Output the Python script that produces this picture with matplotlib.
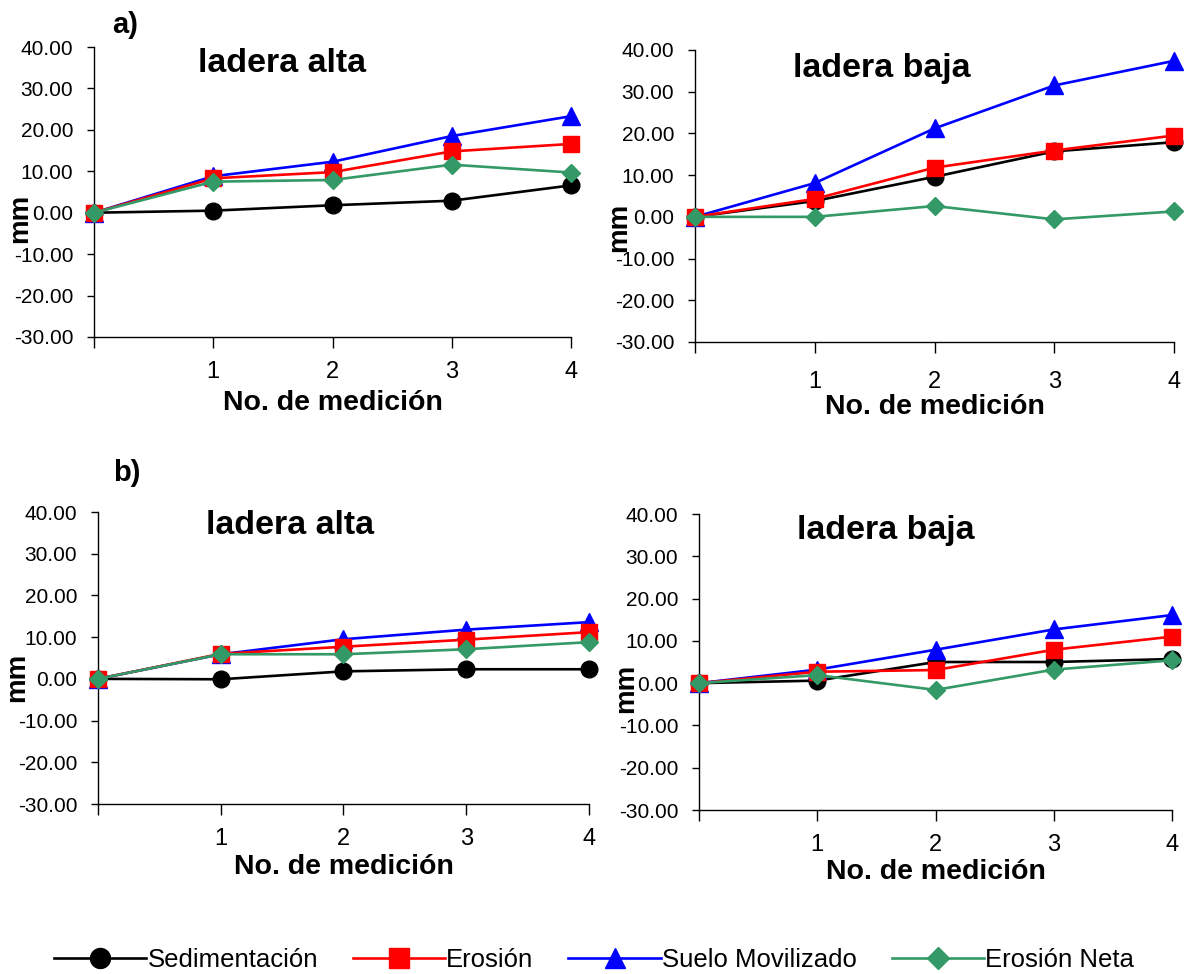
import matplotlib
matplotlib.use("Agg")
import matplotlib.pyplot as plt
import numpy as np

plt.rcParams.update({
    "font.family": ["Liberation Sans", "DejaVu Sans"],
    "font.size": 15,
    "xtick.labelsize": 17,
    "ytick.labelsize": 15,
    "axes.linewidth": 1.0,
})

W, H = 1195, 974

mediciones = [0, 1, 2, 3, 4]
tick_labels = ["", "1", "2", "3", "4"]
series_names = ["Sedimentación", "Erosión", "Suelo Movilizado", "Erosión Neta"]

# a) ladera alta
a_alta_sed = [0.0, 0.5, 1.8, 2.9, 6.6]
a_alta_ero = [0.0, 8.3, 9.8, 14.8, 16.6]
a_alta_sue = [0.0, 8.8, 12.3, 18.5, 23.3]
a_alta_net = [0.0, 7.5, 7.9, 11.6, 9.7]

# a) ladera baja
a_baja_sed = [0.0, 3.8, 9.6, 15.7, 17.9]
a_baja_ero = [0.0, 4.3, 11.8, 15.9, 19.5]
a_baja_sue = [0.0, 8.1, 21.2, 31.5, 37.4]
a_baja_net = [0.0, 0.0, 2.6, -0.6, 1.3]

# b) ladera alta
b_alta_sed = [0.0, -0.1, 1.8, 2.3, 2.3]
b_alta_ero = [0.0, 6.0, 7.7, 9.4, 11.2]
b_alta_sue = [0.0, 5.9, 9.5, 11.8, 13.6]
b_alta_net = [0.0, 5.9, 5.9, 7.1, 8.8]

# b) ladera baja
b_baja_sed = [0.0, 0.6, 5.0, 5.0, 5.7]
b_baja_ero = [0.0, 2.7, 3.1, 7.9, 11.0]
b_baja_sue = [0.0, 3.2, 7.9, 12.7, 16.1]
b_baja_net = [0.0, 1.9, -1.6, 3.2, 5.4]

STYLES = {
    "Sedimentación": dict(color="black", marker="o", ms=12, z=2),
    "Erosión": dict(color="#FF0000", marker="s", ms=11.5, z=4),
    "Suelo Movilizado": dict(color="#0000FF", marker="^", ms=12.5, z=3),
    "Erosión Neta": dict(color="#339966", marker="D", ms=9, z=5),
}


def px_axes(fig, x0, x1, ytop, ybot):
    return fig.add_axes([x0 / W, 1 - ybot / H, (x1 - x0) / W, (ybot - ytop) / H])


def ftext(fig, x, y, s, **kw):
    fig.text(x / W, 1 - y / H, s, ha="center", va="center", **kw)


panels = [
    # x0, x1, ytop, ybot, title, title pos, mm pos, xlabel y, tick pad, data
    (94, 571, 47, 337, "ladera alta", (282, 63), (20, 218), 403, 9,
     [a_alta_sed, a_alta_ero, a_alta_sue, a_alta_net]),
    (695, 1174, 50, 342, "ladera baja", (882, 68), (619, 227), 407, 13,
     [a_baja_sed, a_baja_ero, a_baja_sue, a_baja_net]),
    (98, 589, 512, 804, "ladera alta", (290, 525), (17, 677), 867, 9,
     [b_alta_sed, b_alta_ero, b_alta_sue, b_alta_net]),
    (699, 1172, 514, 810, "ladera baja", (886, 530), (626, 688), 872, 9,
     [b_baja_sed, b_baja_ero, b_baja_sue, b_baja_net]),
]

fig = plt.figure(figsize=(W / 100, H / 100), dpi=100)
handles = []
for x0, x1, yt, yb, title, tpos, mpos, xly, pad, data in panels:
    ax = px_axes(fig, x0, x1, yt, yb)
    lines = {}
    for name, vals in zip(series_names, data):
        st = STYLES[name]
        (ln,) = ax.plot(mediciones, vals, color=st["color"], marker=st["marker"],
                        markersize=st["ms"], markerfacecolor=st["color"],
                        markeredgecolor=st["color"], linewidth=1.9,
                        zorder=st["z"], clip_on=False, label=name)
        lines[name] = ln
    if not handles:
        handles = [lines[n] for n in series_names]
    ax.set_xlim(0, 4)
    ax.set_ylim(-30, 40)
    ax.set_xticks(mediciones)
    ax.set_xticklabels(tick_labels)
    ax.set_yticks(np.arange(-30, 41, 10))
    ax.set_yticklabels([f"{v:.2f}" for v in np.arange(-30, 41, 10)])
    ax.tick_params(axis="x", length=8, width=1, pad=pad, direction="out")
    ax.tick_params(axis="y", length=5, width=1, pad=10, direction="out")
    ax.spines["top"].set_visible(False)
    ax.spines["right"].set_visible(False)
    ax.set_facecolor("none")
    ftext(fig, tpos[0], tpos[1], title, fontsize=24.5, fontweight="bold")
    ftext(fig, mpos[0], mpos[1], "mm", fontsize=20, fontweight="bold", rotation=90)
    ftext(fig, (x0 + x1) / 2, xly, "No. de medición", fontsize=20.5, fontweight="bold")

ftext(fig, 125, 25, "a)", fontsize=21, fontweight="bold")
ftext(fig, 127, 473, "b)", fontsize=21, fontweight="bold")

fig.legend(handles, series_names, loc="center", bbox_to_anchor=(0.497, 1 - 960 / H),
           ncol=4, frameon=False, fontsize=18.5, handlelength=3.6, markerscale=1.2,
           handletextpad=0.05, columnspacing=1.35, borderaxespad=0)

fig.savefig("out.png", dpi=100)
